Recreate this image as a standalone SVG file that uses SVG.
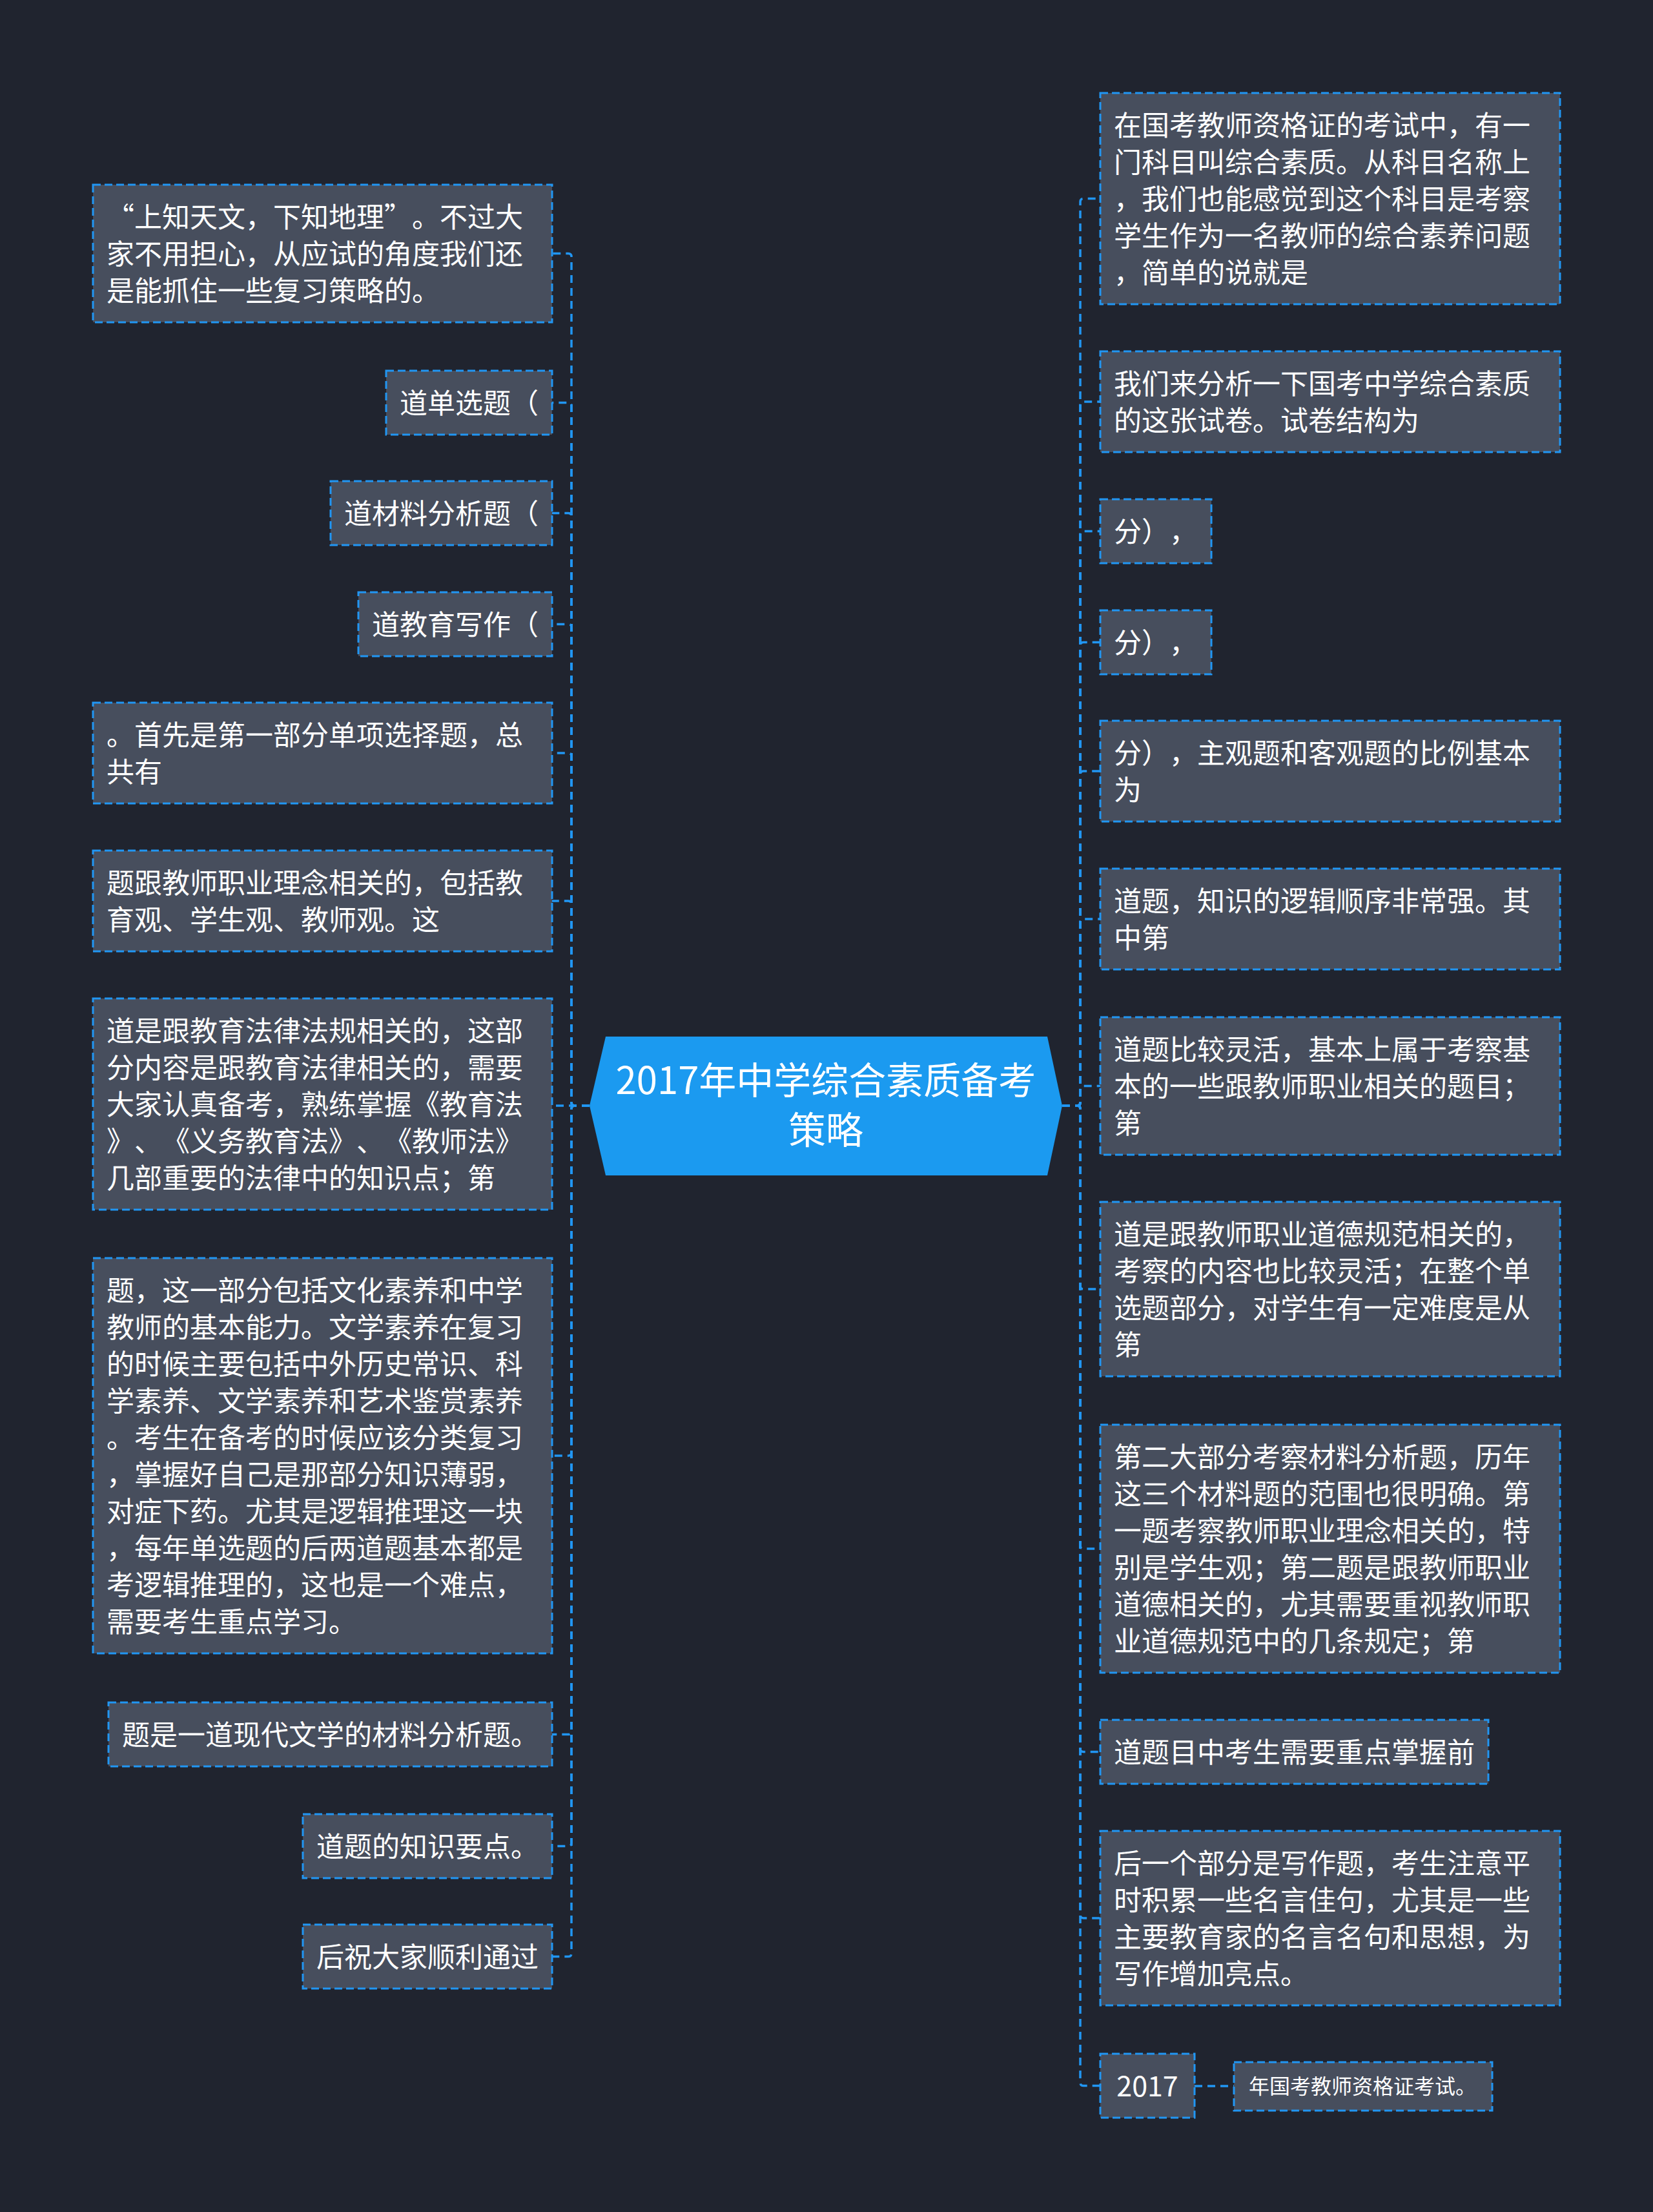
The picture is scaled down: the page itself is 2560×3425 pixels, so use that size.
<svg xmlns="http://www.w3.org/2000/svg" width="2560" height="3425" viewBox="0 0 2560 3425">
<style>
.bg{fill:#20242f}
.node rect{fill:#474e5d;stroke:#2196f3;stroke-width:3;stroke-dasharray:12 6}
text{text-spacing-trim:space-all;font-kerning:none}
.node text{fill:#ffffff;font-family:"Noto Sans CJK SC","Noto Sans",sans-serif;font-size:43px}
.node text.sm{font-size:32px}
.conn path{fill:none;stroke:#2196f3;stroke-width:3.5;stroke-dasharray:12 8}
#center polygon{fill:#1b9af0}
#center text{fill:#ffffff;font-family:"Noto Sans CJK SC","Noto Sans",sans-serif;font-size:58px;text-anchor:middle}
</style>
<rect class="bg" x="0" y="0" width="2560" height="3425"/>
<g class="conn" id="connectors">
<path d="M913,1712 H890 Q885,1712 885,1707 V397.5 Q885,392.5 880,392.5 H855"/>
<path d="M913,1712 H890 Q885,1712 885,1707 V628.5 Q885,623.5 880,623.5 H855"/>
<path d="M913,1712 H890 Q885,1712 885,1707 V799.5 Q885,794.5 880,794.5 H855"/>
<path d="M913,1712 H890 Q885,1712 885,1707 V971.5 Q885,966.5 880,966.5 H855"/>
<path d="M913,1712 H890 Q885,1712 885,1707 V1171 Q885,1166 880,1166 H855"/>
<path d="M913,1712 H890 Q885,1712 885,1707 V1400 Q885,1395 880,1395 H855"/>
<path d="M913,1712 H855"/>
<path d="M913,1712 H890 Q885,1712 885,1717 V2249 Q885,2254 880,2254 H855"/>
<path d="M913,1712 H890 Q885,1712 885,1717 V2680.5 Q885,2685.5 880,2685.5 H855"/>
<path d="M913,1712 H890 Q885,1712 885,1717 V2853.5 Q885,2858.5 880,2858.5 H855"/>
<path d="M913,1712 H890 Q885,1712 885,1717 V3024.5 Q885,3029.5 880,3029.5 H855"/>
<path d="M1645,1712 H1668 Q1673,1712 1673,1707 V312.5 Q1673,307.5 1678,307.5 H1704"/>
<path d="M1645,1712 H1668 Q1673,1712 1673,1707 V627 Q1673,622 1678,622 H1704"/>
<path d="M1645,1712 H1668 Q1673,1712 1673,1707 V827.5 Q1673,822.5 1678,822.5 H1704"/>
<path d="M1645,1712 H1668 Q1673,1712 1673,1707 V999.5 Q1673,994.5 1678,994.5 H1704"/>
<path d="M1645,1712 H1668 Q1673,1712 1673,1707 V1199 Q1673,1194 1678,1194 H1704"/>
<path d="M1645,1712 H1668 Q1673,1712 1673,1707 V1428 Q1673,1423 1678,1423 H1704"/>
<path d="M1645,1712 H1668 Q1673,1712 1673,1707 V1686.5 Q1673,1681.5 1678,1681.5 H1704"/>
<path d="M1645,1712 H1668 Q1673,1712 1673,1717 V1991 Q1673,1996 1678,1996 H1704"/>
<path d="M1645,1712 H1668 Q1673,1712 1673,1717 V2393 Q1673,2398 1678,2398 H1704"/>
<path d="M1645,1712 H1668 Q1673,1712 1673,1717 V2707.5 Q1673,2712.5 1678,2712.5 H1704"/>
<path d="M1645,1712 H1668 Q1673,1712 1673,1717 V2965 Q1673,2970 1678,2970 H1704"/>
<path d="M1645,1712 H1668 Q1673,1712 1673,1717 V3224.5 Q1673,3229.5 1678,3229.5 H1704"/>
<path d="M1850,3230 H1911"/>
</g>
<g id="center">
<polygon points="913,1712 938,1605 1622,1605 1645,1712 1622,1820 938,1820"/>
<text x="1279" y="1694">2017年中学综合素质备考</text>
<text x="1279" y="1771">策略</text>
</g>
<g class="node" id="L1"><rect x="144" y="286" width="711" height="213"/>
<text x="165" y="352">“上知天文，下知地理”。不过大</text>
<text x="165" y="409">家不用担心，从应试的角度我们还</text>
<text x="165" y="466">是能抓住一些复习策略的。</text></g>
<g class="node" id="L2"><rect x="598" y="574" width="257" height="99"/>
<text x="619" y="640">道单选题（</text></g>
<g class="node" id="L3"><rect x="512" y="745" width="343" height="99"/>
<text x="533" y="811">道材料分析题（</text></g>
<g class="node" id="L4"><rect x="555" y="917" width="300" height="99"/>
<text x="576" y="983">道教育写作（</text></g>
<g class="node" id="L5"><rect x="144" y="1088" width="711" height="156"/>
<text x="165" y="1154">。首先是第一部分单项选择题，总</text>
<text x="165" y="1211">共有</text></g>
<g class="node" id="L6"><rect x="144" y="1317" width="711" height="156"/>
<text x="165" y="1383">题跟教师职业理念相关的，包括教</text>
<text x="165" y="1440">育观、学生观、教师观。这</text></g>
<g class="node" id="L7"><rect x="144" y="1546" width="711" height="327"/>
<text x="165" y="1612">道是跟教育法律法规相关的，这部</text>
<text x="165" y="1669">分内容是跟教育法律相关的，需要</text>
<text x="165" y="1726">大家认真备考，熟练掌握《教育法</text>
<text x="165" y="1783">》、《义务教育法》、《教师法》</text>
<text x="165" y="1840">几部重要的法律中的知识点；第</text></g>
<g class="node" id="L8"><rect x="144" y="1948" width="711" height="612"/>
<text x="165" y="2014">题，这一部分包括文化素养和中学</text>
<text x="165" y="2071">教师的基本能力。文学素养在复习</text>
<text x="165" y="2128">的时候主要包括中外历史常识、科</text>
<text x="165" y="2185">学素养、文学素养和艺术鉴赏素养</text>
<text x="165" y="2242">。考生在备考的时候应该分类复习</text>
<text x="165" y="2299">，掌握好自己是那部分知识薄弱，</text>
<text x="165" y="2356">对症下药。尤其是逻辑推理这一块</text>
<text x="165" y="2413">，每年单选题的后两道题基本都是</text>
<text x="165" y="2470">考逻辑推理的，这也是一个难点，</text>
<text x="165" y="2527">需要考生重点学习。</text></g>
<g class="node" id="L9"><rect x="168" y="2636" width="687" height="99"/>
<text x="189" y="2702">题是一道现代文学的材料分析题。</text></g>
<g class="node" id="L10"><rect x="469" y="2809" width="386" height="99"/>
<text x="490" y="2875">道题的知识要点。</text></g>
<g class="node" id="L11"><rect x="469" y="2980" width="386" height="99"/>
<text x="490" y="3046">后祝大家顺利通过</text></g>
<g class="node" id="R1"><rect x="1704" y="144" width="712" height="327"/>
<text x="1725" y="210">在国考教师资格证的考试中，有一</text>
<text x="1725" y="267">门科目叫综合素质。从科目名称上</text>
<text x="1725" y="324">，我们也能感觉到这个科目是考察</text>
<text x="1725" y="381">学生作为一名教师的综合素养问题</text>
<text x="1725" y="438">，简单的说就是</text></g>
<g class="node" id="R2"><rect x="1704" y="544" width="712" height="156"/>
<text x="1725" y="610">我们来分析一下国考中学综合素质</text>
<text x="1725" y="667">的这张试卷。试卷结构为</text></g>
<g class="node" id="R3"><rect x="1704" y="773" width="172" height="99"/>
<text x="1725" y="839">分），</text></g>
<g class="node" id="R4"><rect x="1704" y="945" width="172" height="99"/>
<text x="1725" y="1011">分），</text></g>
<g class="node" id="R5"><rect x="1704" y="1116" width="712" height="156"/>
<text x="1725" y="1182">分），主观题和客观题的比例基本</text>
<text x="1725" y="1239">为</text></g>
<g class="node" id="R6"><rect x="1704" y="1345" width="712" height="156"/>
<text x="1725" y="1411">道题，知识的逻辑顺序非常强。其</text>
<text x="1725" y="1468">中第</text></g>
<g class="node" id="R7"><rect x="1704" y="1575" width="712" height="213"/>
<text x="1725" y="1641">道题比较灵活，基本上属于考察基</text>
<text x="1725" y="1698">本的一些跟教师职业相关的题目；</text>
<text x="1725" y="1755">第</text></g>
<g class="node" id="R8"><rect x="1704" y="1861" width="712" height="270"/>
<text x="1725" y="1927">道是跟教师职业道德规范相关的，</text>
<text x="1725" y="1984">考察的内容也比较灵活；在整个单</text>
<text x="1725" y="2041">选题部分，对学生有一定难度是从</text>
<text x="1725" y="2098">第</text></g>
<g class="node" id="R9"><rect x="1704" y="2206" width="712" height="384"/>
<text x="1725" y="2272">第二大部分考察材料分析题，历年</text>
<text x="1725" y="2329">这三个材料题的范围也很明确。第</text>
<text x="1725" y="2386">一题考察教师职业理念相关的，特</text>
<text x="1725" y="2443">别是学生观；第二题是跟教师职业</text>
<text x="1725" y="2500">道德相关的，尤其需要重视教师职</text>
<text x="1725" y="2557">业道德规范中的几条规定；第</text></g>
<g class="node" id="R10"><rect x="1704" y="2663" width="601" height="99"/>
<text x="1725" y="2729">道题目中考生需要重点掌握前</text></g>
<g class="node" id="R11"><rect x="1704" y="2835" width="712" height="270"/>
<text x="1725" y="2901">后一个部分是写作题，考生注意平</text>
<text x="1725" y="2958">时积累一些名言佳句，尤其是一些</text>
<text x="1725" y="3015">主要教育家的名言名句和思想，为</text>
<text x="1725" y="3072">写作增加亮点。</text></g>
<g class="node" id="R12"><rect x="1704" y="3180" width="146" height="99"/>
<text x="1777" y="3246" text-anchor="middle">2017</text></g>
<g class="node" id="R13"><rect x="1911" y="3193" width="400" height="75"/>
<text class="sm" x="1934" y="3242">年国考教师资格证考试。</text></g>
</svg>
